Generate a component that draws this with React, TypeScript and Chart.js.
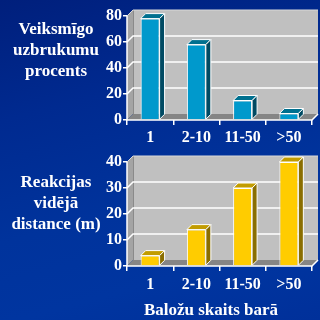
import React, { useEffect, useRef } from "react";
import { Chart, registerables } from "chart.js";

Chart.register(...registerables);

const categories = ["1", "2-10", "11-50", ">50"];
const successValues = [78, 58, 15, 5];
const distanceValues = [4, 14, 30, 40];
const successAxis = { min: 0, max: 80, step: 20 };
const distanceAxis = { min: 0, max: 40, step: 10 };
const successLabel = ["Veiksmīgo", "uzbrukumu", "procents"];
const distanceLabel = ["Reakcijas", "vidējā", "distance (m)"];
const xTitle = "Baložu skaits barā";

const FONT = "'Liberation Serif', 'Times New Roman', serif";

const WALL_DX = 6;
const WALL_DY = -6;
const BAR_D = 5;

const wallsPlugin = {
  id: "walls3d",
  beforeDatasetsDraw(chart: any) {
    const { ctx, chartArea, scales } = chart;
    const L = chartArea.left, R = chartArea.right, T = chartArea.top, B = chartArea.bottom;
    ctx.save();
    ctx.fillStyle = "#c0c0c0";
    ctx.fillRect(L + WALL_DX, T + WALL_DY, R - L, B - T);
    ctx.fillStyle = "#a4a4a4";
    ctx.beginPath();
    ctx.moveTo(L, T);
    ctx.lineTo(L + WALL_DX, T + WALL_DY);
    ctx.lineTo(L + WALL_DX, B + WALL_DY);
    ctx.lineTo(L, B);
    ctx.closePath();
    ctx.fill();
    ctx.fillStyle = "#858585";
    ctx.beginPath();
    ctx.moveTo(L, B);
    ctx.lineTo(L + WALL_DX, B + WALL_DY);
    ctx.lineTo(R + WALL_DX, B + WALL_DY);
    ctx.lineTo(R, B);
    ctx.closePath();
    ctx.fill();
    ctx.strokeStyle = "#8a8a8a";
    ctx.lineWidth = 1;
    ctx.beginPath();
    ctx.moveTo(L + WALL_DX + 0.5, T + WALL_DY);
    ctx.lineTo(L + WALL_DX + 0.5, B + WALL_DY);
    ctx.stroke();
    ctx.strokeStyle = "#d8d8d8";
    ctx.beginPath();
    ctx.moveTo(L, T);
    ctx.lineTo(L + WALL_DX, T + WALL_DY);
    ctx.lineTo(R + WALL_DX, T + WALL_DY);
    ctx.stroke();
    const y = scales.y;
    ctx.strokeStyle = "#ffffff";
    ctx.lineWidth = 1.5;
    y.ticks.forEach((t: any) => {
      if (t.value === y.min || t.value === y.max) return;
      const py = y.getPixelForValue(t.value);
      ctx.beginPath();
      ctx.moveTo(L, py);
      ctx.lineTo(L + WALL_DX, py + WALL_DY);
      ctx.lineTo(R + WALL_DX, py + WALL_DY);
      ctx.stroke();
    });
    ctx.strokeStyle = "#ffffff";
    ctx.lineWidth = 1.5;
    ctx.beginPath();
    ctx.moveTo(L, T);
    ctx.lineTo(L, B);
    ctx.lineTo(R, B);
    ctx.lineTo(R + WALL_DX, B + WALL_DY);
    ctx.stroke();
    ctx.restore();
  },
  afterDatasetsDraw(chart: any, _args: any, opts: any) {
    const { ctx } = chart;
    const meta = chart.getDatasetMeta(0);
    ctx.save();
    ctx.strokeStyle = "#ffffff";
    ctx.lineWidth = 1;
    meta.data.forEach((bar: any) => {
      const { x, y, base, width } = bar.getProps(["x", "y", "base", "width"], true);
      const l = x - width / 2, r = x + width / 2;
      ctx.fillStyle = opts.topColor;
      ctx.beginPath();
      ctx.moveTo(l, y);
      ctx.lineTo(l + BAR_D, y - BAR_D);
      ctx.lineTo(r + BAR_D, y - BAR_D);
      ctx.lineTo(r, y);
      ctx.closePath();
      ctx.fill();
      ctx.stroke();
      ctx.fillStyle = opts.sideColor;
      ctx.beginPath();
      ctx.moveTo(r, y);
      ctx.lineTo(r + BAR_D, y - BAR_D);
      ctx.lineTo(r + BAR_D, base - BAR_D);
      ctx.lineTo(r, base);
      ctx.closePath();
      ctx.fill();
      ctx.stroke();
    });
    ctx.restore();
  },
};

type Props = {
  values: number[];
  axis: { min: number; max: number; step: number };
  padTop: number;
  xHeight: number;
  xPad: number;
  front: string;
  topColor: string;
  sideColor: string;
};

function Bar3D(p: Props) {
  const ref = useRef<HTMLCanvasElement>(null);
  useEffect(() => {
    if (!ref.current) return;
    const chart = new Chart(ref.current, {
      type: "bar",
      data: {
        labels: categories,
        datasets: [
          {
            data: p.values,
            backgroundColor: p.front,
            borderColor: "#ffffff",
            borderWidth: 1,
            categoryPercentage: 1,
            barPercentage: 0.41,
          },
        ],
      },
      options: {
        responsive: false,
        animation: false,
        devicePixelRatio: 1,
        layout: { padding: { top: p.padTop, right: 8, left: 0, bottom: 0 } },
        plugins: {
          legend: { display: false },
          tooltip: { enabled: false },
          walls3d: { topColor: p.topColor, sideColor: p.sideColor },
        } as any,
        scales: {
          x: {
            border: { display: false },
            grid: {
              display: true,
              drawOnChartArea: false,
              color: "#ffffff",
              tickLength: 5,
              lineWidth: 1.5,
            },
            ticks: {
              color: "#ffffff",
              font: { family: FONT, size: 16, weight: "bold" },
              padding: p.xPad,
              maxRotation: 0,
            },
            afterFit: (s: any) => {
              s.height = p.xHeight;
            },
          },
          y: {
            min: p.axis.min,
            max: p.axis.max,
            border: { display: false },
            grid: {
              display: true,
              drawOnChartArea: false,
              color: "#ffffff",
              tickLength: 4,
              lineWidth: 1.5,
            },
            ticks: {
              stepSize: p.axis.step,
              color: "#ffffff",
              font: { family: FONT, size: 16, weight: "bold" },
              padding: 1,
            },
            afterFit: (s: any) => {
              s.width = 127;
            },
          },
        },
      },
      plugins: [wallsPlugin],
    });
    return () => chart.destroy();
  }, []);
  return (
    <canvas
      ref={ref}
      width={320}
      height={320}
      style={{ position: "absolute", left: 0, top: 0, width: 320, height: 320 }}
    />
  );
}

const labelStyle: React.CSSProperties = {
  position: "absolute",
  left: 0,
  width: 112,
  textAlign: "center",
  color: "#ffffff",
  fontFamily: FONT,
  fontWeight: "bold",
  fontSize: 17,
  lineHeight: "21px",
  whiteSpace: "nowrap",
};

export default function App() {
  return (
    <div
      style={{
        position: "fixed",
        left: 0,
        top: 0,
        width: 320,
        height: 320,
        overflow: "hidden",
        background:
          "linear-gradient(165deg, #001f7c 0%, #002a90 30%, #00339c 60%, #0035a0 80%, #00309a 100%)",
      }}
    >
      <Bar3D
        values={successValues}
        axis={successAxis}
        padTop={16}
        xHeight={200}
        xPad={3}
        front="#0099cc"
        topColor="#00708f"
        sideColor="#004a63"
      />
      <Bar3D
        values={distanceValues}
        axis={distanceAxis}
        padTop={162}
        xHeight={54}
        xPad={4}
        front="#ffcc00"
        topColor="#c29c00"
        sideColor="#8a6e00"
      />
      <div style={{ ...labelStyle, top: 18 }}>
        {successLabel.map((t) => (
          <div key={t}>{t}</div>
        ))}
      </div>
      <div style={{ ...labelStyle, top: 171 }}>
        {distanceLabel.map((t) => (
          <div key={t}>{t}</div>
        ))}
      </div>
      <div style={{ ...labelStyle, left: 111, width: 200, top: 300, lineHeight: "20px" }}>{xTitle}</div>
    </div>
  );
}
